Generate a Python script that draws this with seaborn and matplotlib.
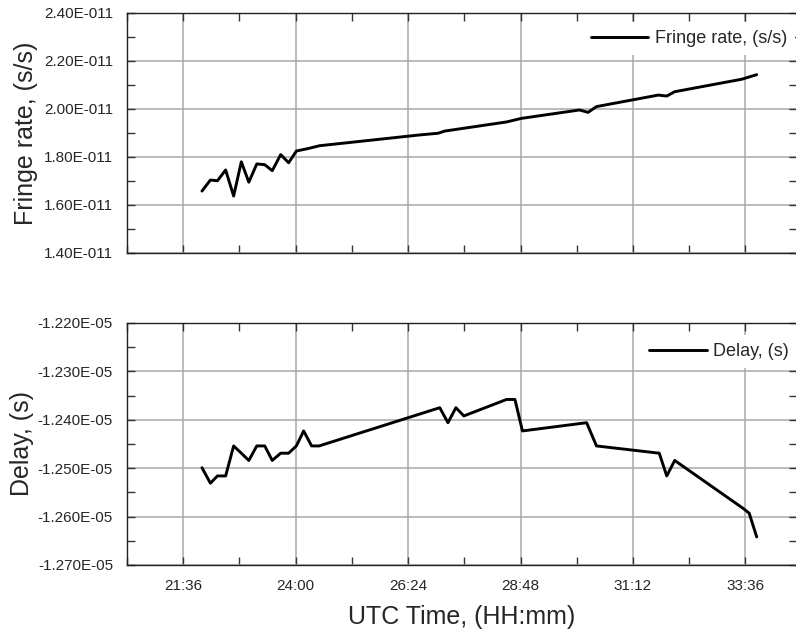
import matplotlib
matplotlib.use("Agg")
import matplotlib.pyplot as plt
from matplotlib.ticker import MultipleLocator, FuncFormatter
import seaborn as sns
import pandas as pd
import numpy as np

# UTC time in decimal hours (past 24 keeps counting)
fringe_time = [22.00, 22.18, 22.33, 22.505, 22.676, 22.84, 23.00, 23.17, 23.34, 23.50,
               23.68, 23.85, 24.015, 24.26, 24.51, 26.65, 27.04, 27.18, 28.50, 28.82,
               30.06, 30.24, 30.42, 31.74, 31.92, 32.09, 33.52, 33.84]
fringe_rate = [1.658, 1.704, 1.701, 1.746, 1.6375, 1.780, 1.695, 1.771, 1.768, 1.743,
               1.810, 1.776, 1.825, 1.835, 1.847, 1.892, 1.899, 1.908, 1.946, 1.961,
               1.996, 1.986, 2.010, 2.058, 2.054, 2.072, 2.124, 2.143]  # x 1e-11 s/s

delay_time = [22.00, 22.18, 22.33, 22.505, 22.676, 22.84, 23.00, 23.17, 23.34, 23.50,
              23.68, 23.85, 24.015, 24.17, 24.34, 24.50, 27.075, 27.25, 27.42, 27.59,
              28.50, 28.68, 28.84, 30.21, 30.42, 31.76, 31.92, 32.09, 33.55, 33.68, 33.84]
delay = [-1.2499, -1.2531, -1.2516, -1.2516, -1.2454, -1.2469, -1.2484, -1.2454, -1.2454, -1.2484,
         -1.2469, -1.2469, -1.2454, -1.2423, -1.2454, -1.2454, -1.2375, -1.2406, -1.2375, -1.2392,
         -1.2358, -1.2358, -1.2423, -1.2406, -1.2454, -1.2469, -1.2516, -1.2484, -1.2583, -1.2593,
         -1.2642]  # x 1e-5 s

df_fr = pd.DataFrame({"t": fringe_time, "v": np.array(fringe_rate) * 1e-11})
df_dl = pd.DataFrame({"t": delay_time, "v": np.array(delay) * 1e-5})

sns.set_theme(style="ticks")
plt.rcParams["font.family"] = ["Liberation Sans", "DejaVu Sans"]

W, H = 796, 633
fig = plt.figure(figsize=(W / 100, H / 100), dpi=100)
ax1 = fig.add_axes([127 / W, (H - 253) / H, (797 - 127) / W, 240 / H])
ax2 = fig.add_axes([127 / W, (H - 565) / H, (797 - 127) / W, 242 / H])


def hhmm(v, pos):
    m = int(round(v * 60))
    return f"{m // 60}:{m % 60:02d}"


sns.lineplot(data=df_fr, x="t", y="v", ax=ax1, color="black", linewidth=2.1,
             label="Fringe rate, (s/s)")
sns.lineplot(data=df_dl, x="t", y="v", ax=ax2, color="black", linewidth=2.1,
             label="Delay, (s)")

ax1.set_ylim(1.4e-11, 2.4e-11)
ax1.yaxis.set_major_locator(MultipleLocator(0.2e-11))
ax1.yaxis.set_minor_locator(MultipleLocator(0.1e-11))
ax1.yaxis.set_major_formatter(FuncFormatter(lambda v, p: f"{v / 1e-11:.2f}E-011"))

ax2.set_ylim(-1.27e-5, -1.22e-5)
ax2.yaxis.set_major_locator(MultipleLocator(0.01e-5))
ax2.yaxis.set_minor_locator(MultipleLocator(0.005e-5))
ax2.yaxis.set_major_formatter(FuncFormatter(lambda v, p: f"{v / 1e-5:.3f}E-05"))

for ax in (ax1, ax2):
    ax.set_xlim(20.4, 34.7)
    ax.xaxis.set_major_locator(MultipleLocator(2.4))
    ax.xaxis.set_minor_locator(MultipleLocator(1.2))
    ax.xaxis.set_major_formatter(FuncFormatter(hhmm))
    ax.grid(True, which="major", color="#a8a8a8", linewidth=1.1)
    ax.tick_params(which="both", direction="in", top=True, right=True,
                   length=6, width=1, color="#333333", labelsize=11, pad=10)
    for s in ax.spines.values():
        s.set_color("#222222")
        s.set_linewidth(1)
        s.set_zorder(6)

leg_style = dict(loc="upper right", fontsize=13, handlelength=3.2, handletextpad=0.35,
                 borderaxespad=0, borderpad=0.45, frameon=True, facecolor="white",
                 edgecolor="none", framealpha=1, fancybox=False)
ax1.legend(bbox_to_anchor=(1 - 2 / 670, 1 - 9 / 240), **leg_style)
ax2.legend(bbox_to_anchor=(1.0, 1 - 12 / 242), **leg_style)

ax1.tick_params(labelbottom=False)
ax1.set_xlabel("")
ax1.set_ylabel("Fringe rate, (s/s)", fontsize=18)
ax2.set_ylabel("Delay, (s)", fontsize=18)
ax1.yaxis.set_label_coords(-0.133, 0.5)
ax2.yaxis.set_label_coords(-0.139, 0.5)
ax2.set_xlabel("UTC Time, (HH:mm)", fontsize=18, labelpad=9)

fig.savefig("out.png", dpi=100)
